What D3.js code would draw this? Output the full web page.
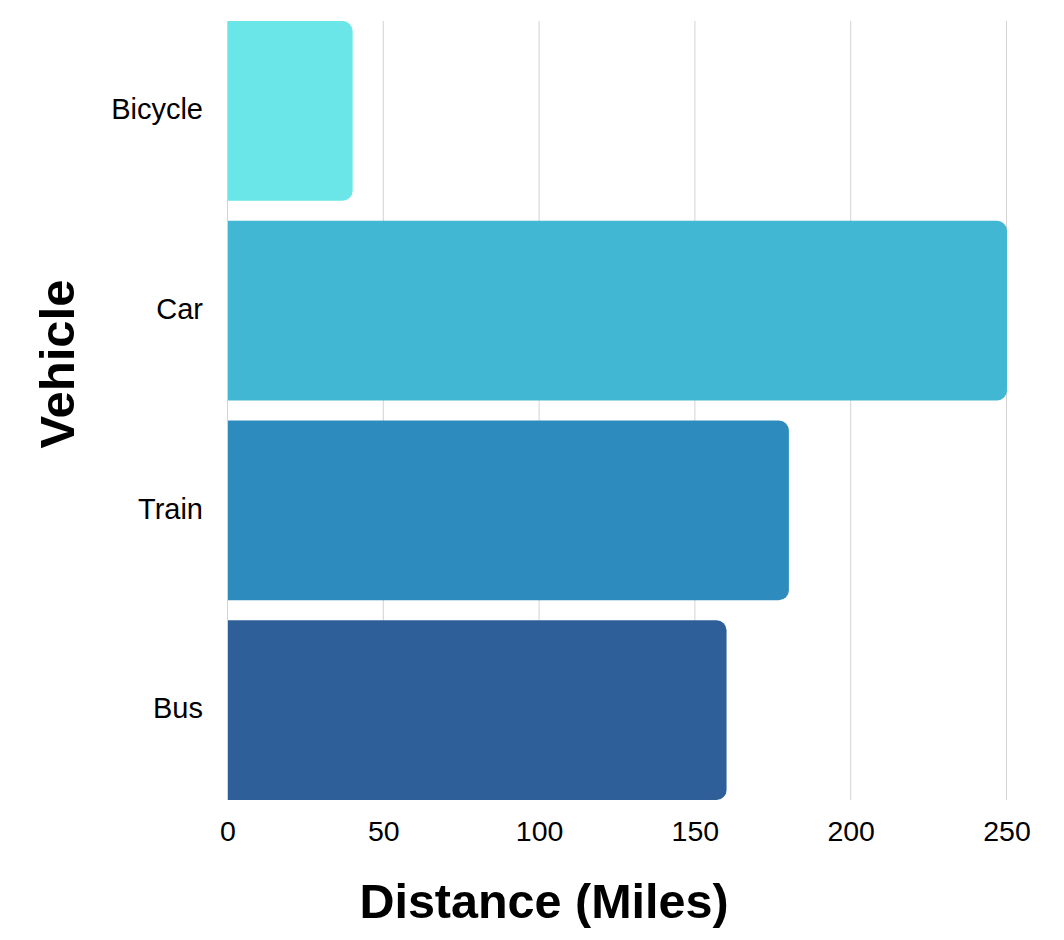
<!DOCTYPE html>
<html><head><meta charset="utf-8">
<script src="https://cdn.jsdelivr.net/npm/d3@7"></script>
<style>
body{margin:0;background:#fff;}
svg{display:block;font-family:"Liberation Sans",Arial,sans-serif;}
</style></head>
<body><svg id="c" width="1064" height="940"></svg>
<script>
const categories = ["Bicycle","Car","Train","Bus"];
const distances = [40, 250, 180, 160];
const colors = ["#6ae5e8","#42b7d4","#2e8bbd","#2e5f98"];
const xTicks = [0,50,100,150,200,250];

const svg = d3.select("#c");
const m = {left:228, right:1007, top:21, bottom:800};
const x = d3.scaleLinear().domain([0,250]).range([m.left, m.right]);
const y = d3.scaleBand().domain(categories).range([m.top, m.bottom]).paddingInner(0.1).paddingOuter(0);

// gridlines
svg.append("g").selectAll("line").data(xTicks).join("line")
  .attr("x1", d=>x(d)-0.5).attr("x2", d=>x(d)-0.5)
  .attr("y1", m.top).attr("y2", m.bottom)
  .attr("stroke","#d3d3d3").attr("stroke-width",1);

// bars with rounded right corners
const r = 10;
function barPath(x0, x1, y0, h){
  const rr = Math.min(r, (x1-x0)/2, h/2);
  return `M${x0},${y0}H${x1-rr}A${rr},${rr} 0 0 1 ${x1},${y0+rr}V${y0+h-rr}A${rr},${rr} 0 0 1 ${x1-rr},${y0+h}H${x0}Z`;
}
svg.append("g").selectAll("path").data(categories).join("path")
  .attr("d", (c,i)=>barPath(x(0), x(distances[i]), y(c), y.bandwidth()))
  .attr("fill", (c,i)=>colors[i]);

// y labels
svg.append("g").selectAll("text").data(categories).join("text")
  .attr("x", 203).attr("y", c=>y(c)+y.bandwidth()/2 - 2)
  .attr("dy","0.35em").attr("text-anchor","end")
  .attr("font-size",29).attr("fill","#000").text(c=>c);

// x labels
svg.append("g").selectAll("text").data(xTicks).join("text")
  .attr("x", d=>x(d)).attr("y", 841)
  .attr("text-anchor","middle").attr("font-size",28.5).attr("fill","#000").text(d=>d);

// axis titles
svg.append("text").attr("x", 544).attr("y", 918)
  .attr("text-anchor","middle").attr("font-size",48.5).attr("font-weight","bold").text("Distance (Miles)");
svg.append("text").attr("transform","translate(74,364) rotate(-90)")
  .attr("text-anchor","middle").attr("font-size",49).attr("font-weight","bold").text("Vehicle");
</script></body></html>
